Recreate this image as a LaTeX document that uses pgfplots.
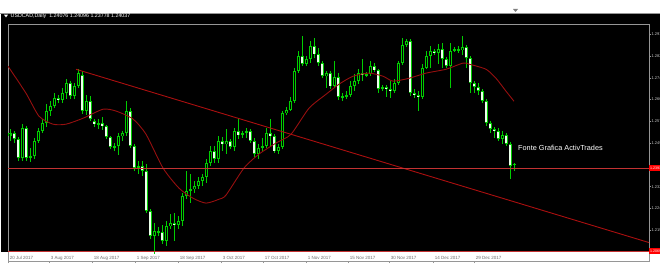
\documentclass[border=0pt]{standalone}
\usepackage{fontspec}
\setmainfont{Liberation Sans}
\usepackage{pgfplots}
\usepackage{pgfplotstable}
\pgfplotsset{compat=1.18}

\definecolor{candlegreen}{RGB}{0,205,0}
\definecolor{bearfill}{RGB}{235,255,235}
\definecolor{trendred}{RGB}{170,15,15}
\definecolor{mared}{RGB}{150,15,15}
\definecolor{levelred}{RGB}{195,50,50}
\definecolor{framegray}{RGB}{150,150,150}
\definecolor{labelgray}{RGB}{200,200,200}
\definecolor{dategray}{RGB}{110,110,110}

% USDCAD daily bars: index, open, high, low, close
\pgfplotstableread{
i o h l c
0 1.2515 1.2542 1.2495 1.2526
1 1.2526 1.2534 1.2487 1.2503
2 1.2503 1.2511 1.2418 1.2429
3 1.2429 1.2561 1.2418 1.2546
4 1.2546 1.2553 1.2418 1.2429
5 1.2429 1.2468 1.2414 1.2437
6 1.2437 1.2507 1.2425 1.2495
7 1.2495 1.2546 1.2487 1.2534
8 1.2534 1.2581 1.2526 1.2565
9 1.2565 1.2639 1.2550 1.2612
10 1.2612 1.2650 1.2592 1.2631
11 1.2631 1.2681 1.2623 1.2662
12 1.2662 1.2674 1.2643 1.2654
13 1.2654 1.2701 1.2643 1.2681
14 1.2681 1.2736 1.2658 1.2720
15 1.2720 1.2728 1.2658 1.2670
16 1.2670 1.2720 1.2658 1.2708
17 1.2708 1.2774 1.2701 1.2759
18 1.2751 1.2767 1.2600 1.2612
19 1.2612 1.2674 1.2596 1.2650
20 1.2650 1.2670 1.2573 1.2581
21 1.2573 1.2581 1.2550 1.2561
22 1.2561 1.2581 1.2542 1.2565
23 1.2565 1.2588 1.2538 1.2553
24 1.2553 1.2557 1.2503 1.2511
25 1.2511 1.2515 1.2464 1.2472
26 1.2472 1.2487 1.2456 1.2476
27 1.2476 1.2526 1.2441 1.2515
28 1.2515 1.2534 1.2495 1.2526
29 1.2526 1.2650 1.2515 1.2612
30 1.2612 1.2623 1.2468 1.2476
31 1.2476 1.2484 1.2379 1.2391
32 1.2391 1.2418 1.2367 1.2398
33 1.2398 1.2418 1.2360 1.2379
34 1.2379 1.2406 1.2216 1.2224
35 1.2224 1.2231 1.2115 1.2127
36 1.2127 1.2177 1.2057 1.2146
37 1.2146 1.2162 1.2127 1.2142
38 1.2142 1.2169 1.2096 1.2108
39 1.2108 1.2185 1.2088 1.2166
40 1.2166 1.2212 1.2154 1.2177
41 1.2177 1.2216 1.2108 1.2169
42 1.2169 1.2204 1.2154 1.2185
43 1.2185 1.2294 1.2166 1.2282
44 1.2282 1.2379 1.2270 1.2301
45 1.2301 1.2367 1.2255 1.2309
46 1.2309 1.2340 1.2294 1.2321
47 1.2321 1.2356 1.2309 1.2340
48 1.2340 1.2367 1.2321 1.2356
49 1.2356 1.2425 1.2332 1.2410
50 1.2410 1.2476 1.2398 1.2456
51 1.2456 1.2476 1.2410 1.2425
52 1.2425 1.2515 1.2410 1.2495
53 1.2495 1.2511 1.2456 1.2484
54 1.2484 1.2542 1.2445 1.2495
55 1.2495 1.2503 1.2464 1.2472
56 1.2472 1.2546 1.2456 1.2534
57 1.2534 1.2584 1.2503 1.2518
58 1.2518 1.2534 1.2507 1.2526
59 1.2526 1.2546 1.2507 1.2534
60 1.2534 1.2542 1.2487 1.2495
61 1.2495 1.2507 1.2433 1.2445
62 1.2445 1.2484 1.2425 1.2468
63 1.2468 1.2507 1.2456 1.2476
64 1.2476 1.2546 1.2468 1.2526
65 1.2526 1.2581 1.2476 1.2515
66 1.2515 1.2522 1.2449 1.2456
67 1.2456 1.2484 1.2445 1.2472
68 1.2472 1.2612 1.2464 1.2604
69 1.2604 1.2627 1.2596 1.2615
70 1.2615 1.2666 1.2612 1.2650
71 1.2650 1.2778 1.2643 1.2767
72 1.2767 1.2844 1.2759 1.2825
73 1.2825 1.2902 1.2786 1.2794
74 1.2794 1.2825 1.2786 1.2813
75 1.2813 1.2883 1.2798 1.2863
76 1.2863 1.2894 1.2817 1.2832
77 1.2832 1.2856 1.2786 1.2798
78 1.2798 1.2805 1.2739 1.2747
79 1.2747 1.2767 1.2701 1.2759
80 1.2759 1.2767 1.2697 1.2708
81 1.2708 1.2805 1.2701 1.2743
82 1.2743 1.2759 1.2654 1.2666
83 1.2666 1.2681 1.2650 1.2670
84 1.2670 1.2689 1.2658 1.2674
85 1.2674 1.2728 1.2666 1.2708
86 1.2708 1.2755 1.2689 1.2728
87 1.2728 1.2774 1.2716 1.2759
88 1.2759 1.2813 1.2728 1.2751
89 1.2751 1.2763 1.2743 1.2755
90 1.2755 1.2805 1.2747 1.2786
91 1.2786 1.2798 1.2763 1.2770
92 1.2770 1.2774 1.2681 1.2697
93 1.2697 1.2712 1.2689 1.2705
94 1.2705 1.2712 1.2666 1.2697
95 1.2697 1.2728 1.2662 1.2689
96 1.2689 1.2736 1.2681 1.2720
97 1.2720 1.2805 1.2712 1.2798
98 1.2798 1.2894 1.2790 1.2867
99 1.2867 1.2890 1.2860 1.2883
100 1.2883 1.2890 1.2670 1.2681
101 1.2681 1.2697 1.2662 1.2674
102 1.2674 1.2689 1.2612 1.2666
103 1.2666 1.2794 1.2658 1.2778
104 1.2778 1.2844 1.2774 1.2825
105 1.2825 1.2863 1.2778 1.2844
106 1.2844 1.2852 1.2829 1.2836
107 1.2836 1.2871 1.2794 1.2852
108 1.2852 1.2875 1.2778 1.2813
109 1.2813 1.2821 1.2778 1.2786
110 1.2786 1.2875 1.2701 1.2844
111 1.2844 1.2860 1.2840 1.2852
112 1.2852 1.2863 1.2836 1.2848
113 1.2848 1.2902 1.2829 1.2860
114 1.2860 1.2867 1.2778 1.2817
115 1.2817 1.2825 1.2681 1.2720
116 1.2720 1.2728 1.2681 1.2705
117 1.2705 1.2720 1.2674 1.2689
118 1.2689 1.2697 1.2643 1.2650
119 1.2650 1.2658 1.2553 1.2565
120 1.2565 1.2573 1.2526 1.2542
121 1.2542 1.2550 1.2507 1.2534
122 1.2534 1.2546 1.2495 1.2503
123 1.2503 1.2534 1.2484 1.2518
124 1.2518 1.2526 1.2476 1.2484
125 1.2484 1.2491 1.2348 1.2398
126 1.24076 1.24096 1.23778 1.24037
}\ohlc

\begin{document}
\begin{tikzpicture}[x=1pt,y=1pt]
\useasboundingbox (0,0) rectangle (660,265);
\fill[white] (0,0) rectangle (660,265);
% chart window
\fill[black] (1,13.5) rectangle (660,252);
\draw[framegray, line width=0.6pt] (0,252) -- (660,252);

\begin{axis}[
  at={(2,15)}, anchor=south west,
  scale only axis, width=641pt, height=237pt,
  xmin=-0.5, xmax=159.75, ymin=1.2030, ymax=1.2949,
  axis line style={draw=framegray, line width=0.6pt},
  clip mode=individual,
  xtick pos=left, ytick pos=right, yticklabel pos=right,
  tick align=outside, major tick length=2pt,
  tick style={draw=framegray, line width=0.5pt},
  ytick={1.2910,1.28255,1.2741,1.26565,1.2572,1.24875,1.23185,1.2234,1.21495},
  yticklabels={1.291,1.282,1.274,1.266,1.257,1.249,1.232,1.224,1.215},
  yticklabel style={font=\fontsize{4}{5}\selectfont, text=labelgray, inner sep=0.3pt},
  xtick={-0.5,9.75,20.5,31.25,42,52.75,63.25,74,84.5,94.75,105.75,116},
  xticklabels={20 Jul 2017,3 Aug 2017,18 Aug 2017,1 Sep 2017,18 Sep 2017,3 Oct 2017,17 Oct 2017,1 Nov 2017,15 Nov 2017,30 Nov 2017,14 Dec 2017,29 Dec 2017},
  xticklabel style={font=\fontsize{4.5}{5}\selectfont, text=dategray,
    anchor=north west, inner sep=0.6pt, yshift=8pt, xshift=1pt},
]

% wicks: high to low
\addplot[draw=none, mark=none,
  error bars/.cd, y dir=both, y explicit, error mark=none,
  error bar style={draw=candlegreen, line width=0.8pt}]
  table[x=i, y expr={(\thisrow{h}+\thisrow{l})/2},
        y error expr={(\thisrow{h}-\thisrow{l})/2}] {\ohlc};

% rising bars: green outline, black body
\addplot[draw=none, mark=none,
  restrict expr to domain={\thisrow{c}-\thisrow{o}}{0:1},
  error bars/.cd, y dir=both, y explicit, error mark=none,
  error bar style={draw=candlegreen, line width=3pt}]
  table[x=i, y expr={(\thisrow{o}+\thisrow{c})/2},
        y error expr={max(abs(\thisrow{c}-\thisrow{o})/2,0.00015)}] {\ohlc};
\addplot[draw=none, mark=none,
  restrict expr to domain={\thisrow{c}-\thisrow{o}}{0:1},
  error bars/.cd, y dir=both, y explicit, error mark=none,
  error bar style={draw=black, line width=1pt}]
  table[x=i, y expr={(\thisrow{o}+\thisrow{c})/2},
        y error expr={max(abs(\thisrow{c}-\thisrow{o})/2-0.0004,0)}] {\ohlc};

% falling bars: green outline, white body
\addplot[draw=none, mark=none,
  restrict expr to domain={\thisrow{c}-\thisrow{o}}{-1:-0.00001},
  error bars/.cd, y dir=both, y explicit, error mark=none,
  error bar style={draw=candlegreen, line width=3pt}]
  table[x=i, y expr={(\thisrow{o}+\thisrow{c})/2},
        y error expr={max(abs(\thisrow{c}-\thisrow{o})/2,0.00015)}] {\ohlc};
\addplot[draw=none, mark=none,
  restrict expr to domain={\thisrow{c}-\thisrow{o}}{-1:-0.00001},
  error bars/.cd, y dir=both, y explicit, error mark=none,
  error bar style={draw=bearfill, line width=1.5pt}]
  table[x=i, y expr={(\thisrow{o}+\thisrow{c})/2},
        y error expr={max(abs(\thisrow{c}-\thisrow{o})/2-0.0003,0)}] {\ohlc};

% moving average
\addplot[mared, line width=0.9pt, smooth, tension=0.4] coordinates {
(-0.5,1.2786) (4,1.2681) (7.25,1.2592) (10.75,1.2561) (14,1.2561)
(18.25,1.2584) (23.25,1.2619) (26.5,1.2612) (30.75,1.2581) (34,1.2522)
(38.25,1.2391) (42.25,1.2313) (45.75,1.2274) (49,1.2255) (52.25,1.2270)
(54,1.2286) (58.5,1.2391) (62.25,1.2445) (66.5,1.2488) (70.25,1.2522)
(74.75,1.2623) (79,1.2677) (82.25,1.2716) (85.75,1.2747) (89.75,1.2759)
(93.25,1.2747) (95.75,1.2728) (99.75,1.2739) (104,1.2759) (109,1.2774)
(113.25,1.2798) (114.75,1.2794) (119,1.2774) (121.5,1.2739) (124,1.2689)
(126,1.2650)};

% descending trendline
\addplot[trendred, line width=0.9pt] coordinates {(16.5,1.2774) (159.75,1.2102)};

% horizontal levels
\addplot[levelred, line width=0.8pt] coordinates {(-0.5,1.2391) (159.75,1.2391)};
\addplot[levelred, line width=0.8pt] coordinates {(-0.5,1.2069) (159.75,1.2069)};

% price tags of the levels on the price scale
\fill[red] (axis cs:159.75,1.2391) ++(0.4pt,-3.3pt) rectangle ++(17pt,6.6pt);
\fill[red] (axis cs:159.75,1.2069) ++(0.4pt,-3.3pt) rectangle ++(17pt,6.6pt);
\node[text=white, font=\fontsize{3.6}{4.5}\selectfont, anchor=west,
  inner sep=0.3pt, xshift=0.6pt] at (axis cs:159.75,1.2391) {1.2391};
\node[text=white, font=\fontsize{3.6}{4.5}\selectfont, anchor=west,
  inner sep=0.3pt, xshift=0.6pt] at (axis cs:159.75,1.2069) {1.2069};
\end{axis}

% symbol caption
\fill[white] (4,250.3) -- (8,250.3) -- (6,247.6) -- cycle;
\node[anchor=west, text=white, font=\fontsize{5.3}{6}\selectfont, inner sep=0]
  at (10.5,248.8) {USDCAD,Daily\ \ 1.24076 1.24096 1.23778 1.24037};
% chart shift marker
\fill[gray] (513,256) -- (518,256) -- (515.5,253) -- cycle;
\node[anchor=west, text=white, font=\fontsize{7.3}{8}\selectfont, inner sep=0]
  at (518,117) {Fonte Grafica ActivTrades};
\end{tikzpicture}
\end{document}
